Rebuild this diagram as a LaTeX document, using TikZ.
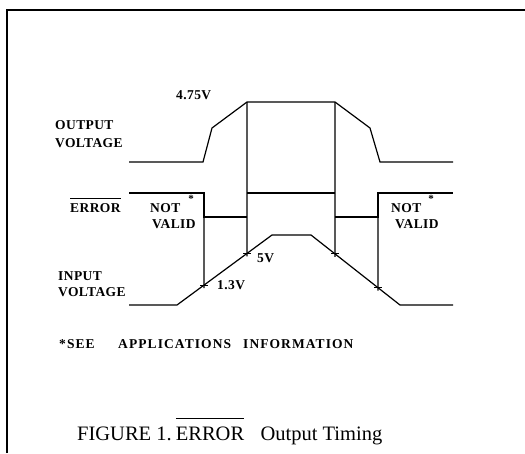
\documentclass[tikz,border=0pt]{standalone}
\usepackage{fontspec}
\setmainfont{Liberation Serif}
\newfontfamily\labfont[LetterSpace=3]{Liberation Serif}
\newfontfamily\notefont[LetterSpace=8]{Liberation Serif}
\usetikzlibrary{calc}
\newcommand\myovl[2]{\leavevmode\vbox{\hrule height 0.9pt\kern #1\hbox{#2}}}
\begin{document}
\begin{tikzpicture}[x=1pt,y=-1pt,
  lab/.style={font=\labfont\fontsize{13.5}{14}\selectfont\bfseries, anchor=base west, inner sep=0pt},
  notelab/.style={font=\notefont\fontsize{13.5}{14}\selectfont\bfseries, anchor=base west, inner sep=0pt},
  star/.style={font=\fontsize{11}{11}\selectfont\bfseries, inner sep=0pt},
  wave/.style={line width=1.2pt, line join=miter},
  tick/.style={line width=1.1pt}]
\useasboundingbox (0,0) rectangle (525,453);
% frame
\draw[line width=1.6pt] (7,453) -- (7,10) -- (525,10);
% key points
\coordinate (o1) at (129,162); \coordinate (o2) at (203,162); \coordinate (o3) at (212,128);
\coordinate (o4) at (247,102); \coordinate (o5) at (335,102); \coordinate (o6) at (370,128);
\coordinate (o7) at (380,162); \coordinate (o8) at (453,162);
\coordinate (i1) at (129,305); \coordinate (i2) at (177,305); \coordinate (i3) at (272,235);
\coordinate (i4) at (311,235); \coordinate (i5) at (400,305); \coordinate (i6) at (453,305);
\coordinate (c1) at ($(i2)!{27/95}!(i3)$);
\coordinate (c2) at ($(i2)!{70/95}!(i3)$);
\coordinate (c3) at ($(i4)!{24/89}!(i5)$);
\coordinate (c4) at ($(i4)!{67/89}!(i5)$);
% output voltage
\draw[wave] (o1) -- (o2) -- (o3) -- (o4) -- (o5) -- (o6) -- (o7) -- (o8);
% input voltage
\draw[wave] (i1) -- (i2) -- (i3) -- (i4) -- (i5) -- (i6);
% error
\draw[wave] (129,193) -- (204,193) -- (204,217) -- (247,217);
\draw[wave] (247,193) -- (335,193);
\draw[wave] (335,217) -- (378,217) -- (378,193) -- (453,193);
% verticals
\draw[wave] (o4) -- ([yshift=-3pt]c2);
\draw[wave] (o5) -- ([yshift=-3pt]c3);
\draw[wave] (204,193) -- ([yshift=-3pt]c1);
\draw[wave] (378,193) -- ([yshift=-3pt]c4);
% ticks
\foreach \p in {c1,c2,c3,c4} \draw[tick] ([xshift=-4pt]\p) -- ([xshift=4pt]\p);
% labels
\node[lab] (ov1) at (55,129) {OUTPUT};
\node[lab] (ov2) at (55,147) {VOLTAGE};
\node[lab] (v475) at (176,99) {4.75V};
\node[lab] (err) at (70,212) {\myovl{4.5pt}{ERROR}};
\node[lab] (nv1) at (150,212) {NOT};
\node[lab] (nv2) at (152,228) {VALID};
\node[star] (s1) at (191,199) {*};
\node[lab] (nv3) at (391,212) {NOT};
\node[lab] (nv4) at (395,228) {VALID};
\node[star] (s2) at (431,199) {*};
\node[lab] (v5) at (257,262) {5V};
\node[lab] (iv1) at (58,280) {INPUT};
\node[lab] (iv2) at (58,296) {VOLTAGE};
\node[lab] (v13) at (217,289) {1.3V};
\node[notelab] (note) at (59,348) {\makebox[59pt][l]{*SEE}\makebox[125pt][l]{APPLICATIONS}INFORMATION};
\node[anchor=base west, inner sep=0pt, font=\fontsize{20.5}{22}\selectfont] (cap) at (77,440) {FIGURE 1.\hspace{0.2em}\myovl{8pt}{ERROR}\hspace{0.8em}Output Timing};
\end{tikzpicture}
\end{document}
